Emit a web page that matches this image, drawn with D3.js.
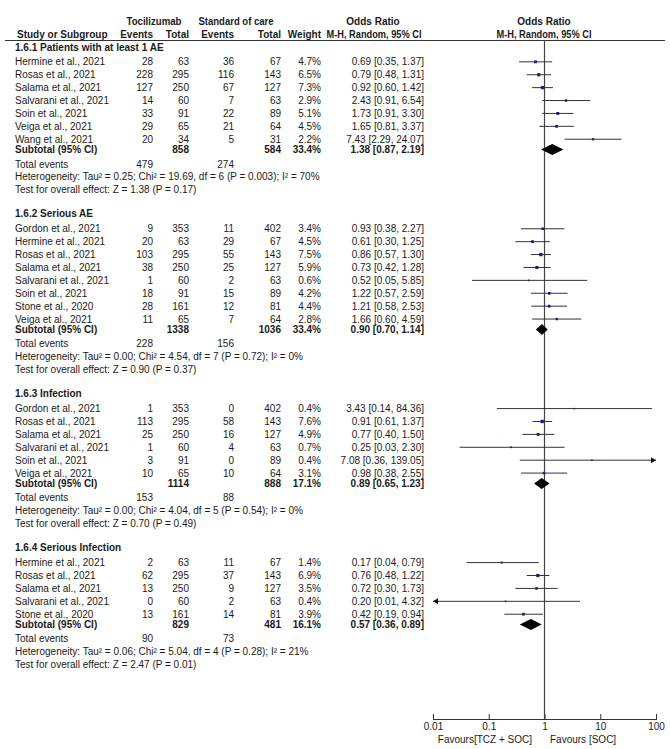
<!DOCTYPE html>
<html><head><meta charset="utf-8">
<script src="https://cdn.jsdelivr.net/npm/d3@7/dist/d3.min.js"></script>
<style>
body{margin:0;background:#fff}
text{font-family:"Liberation Sans",Arial,sans-serif;font-size:10px;fill:#1a1a1a}
.b{font-weight:bold}
</style>
</head><body><svg id="c" width="670" height="749"></svg>
<script>
// ---- data ----
const sectionTitles = ["1.6.1 Patients with at least 1 AE", "1.6.2 Serious AE", "1.6.3 Infection", "1.6.4 Serious Infection"];
// [study, TCZ events, TCZ total, SOC events, SOC total, weight %, OR, lower, upper]
const s1 = [
  ["Hermine et al., 2021", 28, 63, 36, 67, 4.7, 0.69, 0.35, 1.37],
  ["Rosas et al., 2021", 228, 295, 116, 143, 6.5, 0.79, 0.48, 1.31],
  ["Salama et al., 2021", 127, 250, 67, 127, 7.3, 0.92, 0.60, 1.42],
  ["Salvarani et al., 2021", 14, 60, 7, 63, 2.9, 2.43, 0.91, 6.54],
  ["Soin et al., 2021", 33, 91, 22, 89, 5.1, 1.73, 0.91, 3.30],
  ["Veiga et al., 2021", 29, 65, 21, 64, 4.5, 1.65, 0.81, 3.37],
  ["Wang et al., 2021", 20, 34, 5, 31, 2.2, 7.43, 2.29, 24.07]
];
const s2 = [
  ["Gordon et al., 2021", 9, 353, 11, 402, 3.4, 0.93, 0.38, 2.27],
  ["Hermine et al., 2021", 20, 63, 29, 67, 4.5, 0.61, 0.30, 1.25],
  ["Rosas et al., 2021", 103, 295, 55, 143, 7.5, 0.86, 0.57, 1.30],
  ["Salama et al., 2021", 38, 250, 25, 127, 5.9, 0.73, 0.42, 1.28],
  ["Salvarani et al., 2021", 1, 60, 2, 63, 0.6, 0.52, 0.05, 5.85],
  ["Soin et al., 2021", 18, 91, 15, 89, 4.2, 1.22, 0.57, 2.59],
  ["Stone et al., 2020", 28, 161, 12, 81, 4.4, 1.21, 0.58, 2.53],
  ["Veiga et al., 2021", 11, 65, 7, 64, 2.8, 1.66, 0.60, 4.59]
];
const s3 = [
  ["Gordon et al., 2021", 1, 353, 0, 402, 0.4, 3.43, 0.14, 84.36],
  ["Rosas et al., 2021", 113, 295, 58, 143, 7.6, 0.91, 0.61, 1.37],
  ["Salama et al., 2021", 25, 250, 16, 127, 4.9, 0.77, 0.40, 1.50],
  ["Salvarani et al., 2021", 1, 60, 4, 63, 0.7, 0.25, 0.03, 2.30],
  ["Soin et al., 2021", 3, 91, 0, 89, 0.4, 7.08, 0.36, 139.05],
  ["Veiga et al., 2021", 10, 65, 10, 64, 3.1, 0.98, 0.38, 2.55]
];
const s4 = [
  ["Hermine et al., 2021", 2, 63, 11, 67, 1.4, 0.17, 0.04, 0.79],
  ["Rosas et al., 2021", 62, 295, 37, 143, 6.9, 0.76, 0.48, 1.22],
  ["Salama et al., 2021", 13, 250, 9, 127, 3.5, 0.72, 0.30, 1.73],
  ["Salvarani et al., 2021", 0, 60, 2, 63, 0.4, 0.20, 0.01, 4.32],
  ["Stone et al., 2020", 13, 161, 14, 81, 3.9, 0.42, 0.19, 0.94]
];
// [TCZ total, SOC total, weight, OR, lower, upper]
const subtotals = [
  [858, 584, 33.4, 1.38, 0.87, 2.19],
  [1338, 1036, 33.4, 0.90, 0.70, 1.14],
  [1114, 888, 17.1, 0.89, 0.65, 1.23],
  [829, 481, 16.1, 0.57, 0.36, 0.89]
];
const totalEvents = [[479, 274], [228, 156], [153, 88], [90, 73]];
const heterogeneity = [
  "Heterogeneity: Tau² = 0.25; Chi² = 19.69, df = 6 (P = 0.003); I² = 70%",
  "Heterogeneity: Tau² = 0.00; Chi² = 4.54, df = 7 (P = 0.72); I² = 0%",
  "Heterogeneity: Tau² = 0.00; Chi² = 4.04, df = 5 (P = 0.54); I² = 0%",
  "Heterogeneity: Tau² = 0.06; Chi² = 5.04, df = 4 (P = 0.28); I² = 21%"
];
const overallEffect = [
  "Test for overall effect: Z = 1.38 (P = 0.17)",
  "Test for overall effect: Z = 0.90 (P = 0.37)",
  "Test for overall effect: Z = 0.70 (P = 0.49)",
  "Test for overall effect: Z = 2.47 (P = 0.01)"
];
const axisTicks = [0.01, 0.1, 1, 10, 100];
const axisTickLabels = ["0.01", "0.1", "1", "10", "100"];
const favourLeft = "Favours[TCZ + SOC]";
const favourRight = "Favours [SOC]";
const sections = [s1, s2, s3, s4];

// ---- layout ----
const svg = d3.select("#c");
const x = d3.scaleLog().domain([0.01, 100]).range([433, 656]);
const y = d3.scaleLinear().domain([0, 1]).range([47, 59.9]);
const col = {name: 15, te: 153, tt: 189, se: 234, st: 281, w: 321, or: 424};
const f2 = d3.format(".2f"), f1 = d3.format(".1f");
const orText = (o, l, h) => `${f2(o)} [${f2(l)}, ${f2(h)}]`;

function t(g, xx, yy, s, anchor, bold) {
  return g.append("text").attr("x", xx).attr("y", yy).attr("dy", "0.35em")
    .attr("text-anchor", anchor || "start").attr("class", bold ? "b" : null).text(s);
}
// header
t(svg, 154, 21, "Tocilizumab", "middle", true).attr("textLength", 55).attr("lengthAdjust", "spacingAndGlyphs");
t(svg, 236, 21, "Standard of care", "middle", true).attr("textLength", 75).attr("lengthAdjust", "spacingAndGlyphs");
t(svg, 373, 21, "Odds Ratio", "middle", true);
t(svg, 544, 21, "Odds Ratio", "middle", true);
t(svg, 17, 34, "Study or Subgroup", "start", true);
t(svg, col.te, 34, "Events", "end", true);
t(svg, col.tt, 34, "Total", "end", true);
t(svg, col.se, 34, "Events", "end", true);
t(svg, col.st, 34, "Total", "end", true);
t(svg, col.w, 34, "Weight", "end", true);
t(svg, 374, 34, "M-H, Random, 95% CI", "middle", true).attr("textLength", 95).attr("lengthAdjust", "spacingAndGlyphs");
t(svg, 544, 34, "M-H, Random, 95% CI", "middle", true).attr("textLength", 95).attr("lengthAdjust", "spacingAndGlyphs");
svg.append("line").attr("x1", 5).attr("x2", 665).attr("y1", 40.5).attr("y2", 40.5)
  .attr("stroke", "#333").attr("stroke-width", 1.2);

// vertical line of no effect
svg.append("line").attr("x1", x(1)).attr("x2", x(1)).attr("y1", 40).attr("y2", 719)
  .attr("stroke", "#444").attr("stroke-width", 1.2);

const plot = svg.append("g");
let u = 0;
sections.forEach((rows, i) => {
  t(svg, col.name, y(u), sectionTitles[i], "start", true);
  u += 1.15;
  rows.forEach((r, j) => {
    const yy = y(u);
    t(svg, col.name, yy, r[0]);
    t(svg, col.te, yy, r[1], "end");
    t(svg, col.tt, yy, r[2], "end");
    t(svg, col.se, yy, r[3], "end");
    t(svg, col.st, yy, r[4], "end");
    t(svg, col.w, yy, f1(r[5]) + "%", "end");
    t(svg, col.or, yy, orText(r[6], r[7], r[8]), "end");
    const lo = Math.max(r[7], 0.01), hi = Math.min(r[8], 100);
    plot.append("line").attr("x1", x(lo)).attr("x2", x(hi)).attr("y1", yy).attr("y2", yy)
      .attr("stroke", "#333").attr("stroke-width", 1);
    if (r[8] >= 100) {
      const xe = x(100);
      plot.append("path").attr("d", `M${xe},${yy} L${xe - 5},${yy - 3} L${xe - 5},${yy + 3} Z`).attr("fill", "#111");
    }
    if (r[7] <= 0.01) {
      const xs = x(0.01);
      plot.append("path").attr("d", `M${xs},${yy} L${xs + 5},${yy - 3} L${xs + 5},${yy + 3} Z`).attr("fill", "#111");
    }
    const s = 1 + Math.sqrt(r[5]) * 0.85;
    plot.append("rect").attr("x", x(r[6]) - s / 2).attr("y", yy - s / 2)
      .attr("width", s).attr("height", s).attr("fill", "#1b1b8a");
    u += 1;
  });
  u -= 1; u += 0.8;
  const st = subtotals[i], ys = y(u);
  t(svg, col.name, ys, "Subtotal (95% CI)", "start", true);
  t(svg, col.tt, ys, st[0], "end", true);
  t(svg, col.st, ys, st[1], "end", true);
  t(svg, col.w, ys, f1(st[2]) + "%", "end", true);
  t(svg, col.or, ys, orText(st[3], st[4], st[5]), "end", true);
  plot.append("path")
    .attr("d", `M${x(st[4])},${ys} L${x(st[3])},${ys - 5.5} L${x(st[5])},${ys} L${x(st[3])},${ys + 5.5} Z`)
    .attr("fill", "#000");
  u += 1.12;
  t(svg, col.name, y(u), "Total events");
  t(svg, col.te, y(u), totalEvents[i][0], "end");
  t(svg, col.se, y(u), totalEvents[i][1], "end");
  u += 1;
  t(svg, col.name, y(u), heterogeneity[i]);
  u += 1;
  t(svg, col.name, y(u), overallEffect[i]);
  u += 1.87;
});

// axis
const ax = svg.append("g").attr("transform", "translate(0,719)")
  .call(d3.axisBottom(x).tickValues(axisTicks).tickSize(-5).tickSizeOuter(0).tickPadding(4)
    .tickFormat((d, k) => axisTickLabels[k]));
ax.select(".domain").attr("stroke", "#333");
ax.selectAll(".tick line").attr("stroke", "#333").attr("y2", -5).attr("y1", 1);
ax.selectAll(".tick text").style("fill", "#1a1a1a");
ax.attr("font-size", null).attr("font-family", null);
t(svg, 532, 739, favourLeft, "end");
t(svg, 550, 739, favourRight, "start");
</script></body></html>
